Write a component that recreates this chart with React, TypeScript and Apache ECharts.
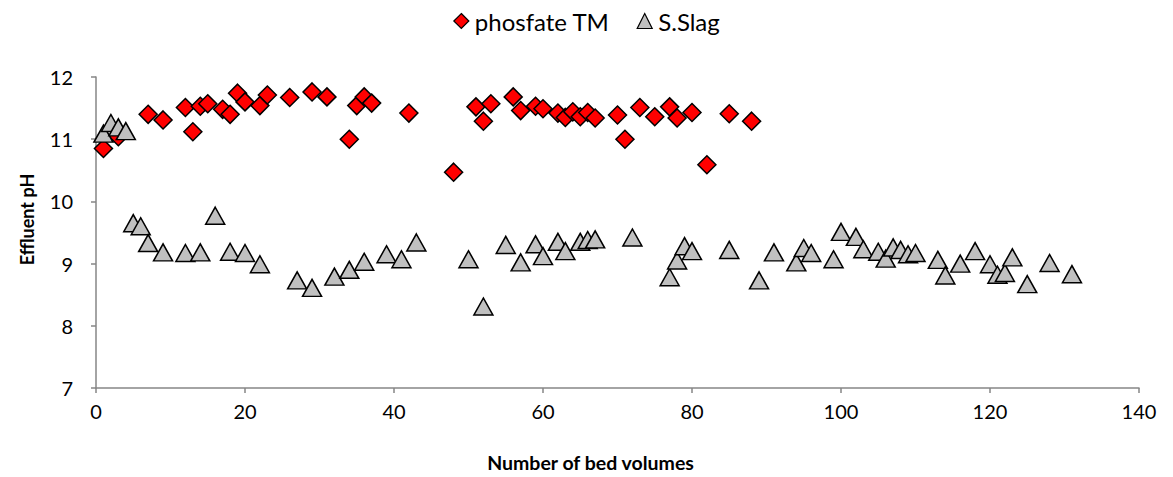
import React, { useEffect, useRef } from "react";
import * as echarts from "echarts";

const phosX = [1, 3, 7, 9, 12, 13, 14, 15, 17, 18, 19, 20, 22, 23, 26, 29, 31, 34, 35, 36, 37, 42, 48, 51, 52, 53, 56, 57, 59, 60, 62, 63, 64, 65, 66, 67, 70, 71, 73, 75, 77, 78, 80, 82, 85, 88];
const phosY = [10.85, 11.04, 11.4, 11.31, 11.51, 11.12, 11.53, 11.57, 11.48, 11.4, 11.74, 11.6, 11.54, 11.71, 11.67, 11.76, 11.68, 11.0, 11.54, 11.68, 11.58, 11.42, 10.47, 11.52, 11.29, 11.57, 11.68, 11.46, 11.53, 11.49, 11.42, 11.35, 11.44, 11.36, 11.43, 11.34, 11.39, 11.0, 11.51, 11.36, 11.52, 11.34, 11.43, 10.59, 11.41, 11.29];

const slagX = [1, 2, 3, 4, 5, 6, 7, 9, 12, 14, 16, 18, 20, 22, 27, 29, 32, 34, 36, 39, 41, 43, 50, 52, 55, 57, 59, 60, 62, 63, 65, 66, 67, 72, 77, 78, 79, 80, 85, 89, 91, 94, 95, 96, 99, 100, 102, 103, 105, 106, 107, 108, 109, 110, 113, 114, 116, 118, 120, 121, 122, 123, 125, 128, 131];
const slagY = [11.09, 11.26, 11.19, 11.13, 9.65, 9.6, 9.33, 9.18, 9.17, 9.18, 9.77, 9.19, 9.17, 8.99, 8.73, 8.61, 8.79, 8.9, 9.03, 9.15, 9.07, 9.34, 9.07, 8.31, 9.3, 9.02, 9.31, 9.12, 9.35, 9.2, 9.35, 9.38, 9.39, 9.42, 8.78, 9.05, 9.28, 9.2, 9.22, 8.73, 9.18, 9.02, 9.25, 9.17, 9.07, 9.51, 9.43, 9.23, 9.19, 9.08, 9.26, 9.22, 9.15, 9.17, 9.06, 8.81, 9.0, 9.2, 8.99, 8.82, 8.85, 9.1, 8.67, 9.01, 8.83];

const seriesNames = ["phosfate TM", "S.Slag"];
const xTitle = "Number of bed volumes";
const yTitle = "Effluent pH";

const FONT = "Lato, 'Open Sans', sans-serif";

export default function App() {
  const ref = useRef<HTMLDivElement>(null);
  useEffect(() => {
    if (!ref.current) return;
    const chart = echarts.init(ref.current, null, { renderer: "svg" });
    const axisColor = "#868686";
    chart.setOption({
      animation: false,
      backgroundColor: "#ffffff",
      textStyle: { fontFamily: FONT },
      legend: {
        top: 4,
        left: "center",
        itemGap: 27,
        itemWidth: 15,
        itemHeight: 15,
        textStyle: { fontSize: 24, color: "#000", fontFamily: FONT, padding: [0, 0, 0, 1] },
        data: [
          { name: seriesNames[0], icon: "diamond", itemStyle: { color: "#ff0000", borderColor: "#000", borderWidth: 1.2, opacity: 1 } },
          { name: seriesNames[1], icon: "triangle", itemStyle: { color: "#c0c0c0", borderColor: "#000", borderWidth: 1.2, opacity: 1 } },
        ],
      },
      grid: { left: 96, right: 34, top: 77, bottom: 89, containLabel: false },
      xAxis: {
        type: "value",
        min: 0,
        max: 140,
        interval: 20,
        name: xTitle,
        nameLocation: "middle",
        nameGap: 64,
        nameTextStyle: { fontSize: 19.5, fontWeight: "bold", color: "#000", fontFamily: FONT, padding: [0, 54, 0, 0] },
        axisLine: { show: true, lineStyle: { color: axisColor, width: 1.5 } },
        axisTick: { show: true, length: 5, lineStyle: { color: axisColor, width: 1.5 } },
        axisLabel: { fontSize: 20, color: "#000", margin: 13, fontFamily: FONT },
        splitLine: { show: false },
      },
      yAxis: {
        type: "value",
        min: 7,
        max: 12,
        interval: 1,
        name: yTitle,
        nameLocation: "middle",
        nameGap: 60,
        nameRotate: 90,
        nameTextStyle: { fontSize: 18, fontWeight: "bold", color: "#000", fontFamily: FONT, padding: [0, 0, 0, 26] },
        axisLine: { show: true, lineStyle: { color: axisColor, width: 1.5 } },
        axisTick: { show: true, length: 5, lineStyle: { color: axisColor, width: 1.5 } },
        axisLabel: { fontSize: 20, color: "#000", margin: 23, fontFamily: FONT },
        splitLine: { show: false },
      },
      series: [
        {
          name: seriesNames[0],
          type: "scatter",
          symbol: "diamond",
          symbolSize: [18, 18],
          itemStyle: { color: "#ff0000", borderColor: "#000", borderWidth: 1.5, opacity: 1 },
          data: phosX.map((x, i) => [x, phosY[i]]),
        },
        {
          name: seriesNames[1],
          type: "scatter",
          symbol: "triangle",
          symbolSize: [19, 17],
          itemStyle: { color: "#c0c0c0", borderColor: "#000", borderWidth: 1.5, opacity: 1 },
          data: slagX.map((x, i) => [x, slagY[i]]),
        },
      ],
    });
    return () => chart.dispose();
  }, []);
  return (
    <div
      ref={ref}
      style={{ position: "fixed", left: 0, top: 0, width: 1173, height: 477, background: "#fff" }}
    />
  );
}
